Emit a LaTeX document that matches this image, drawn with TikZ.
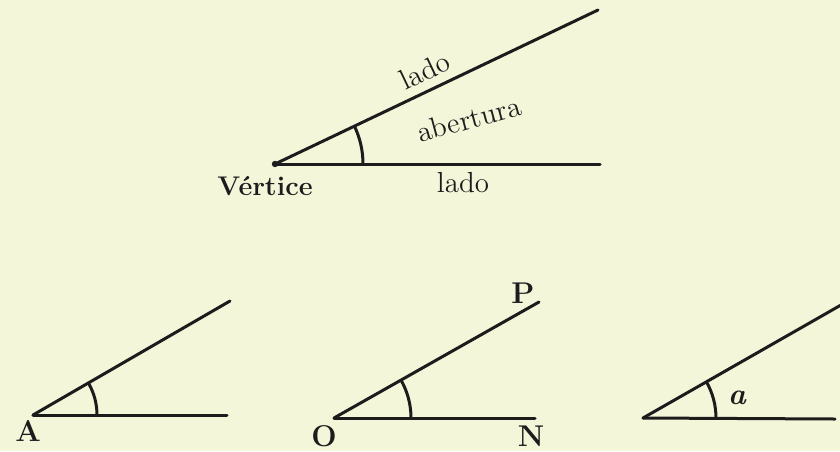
\documentclass[tikz,border=0pt]{standalone}
\usepackage{fontspec}
\usepackage{xcolor}
\definecolor{paperCream}{HTML}{F4F6DA}
\definecolor{inkBlack}{HTML}{1C1C1C}
\usepackage{tikz}
\usetikzlibrary{positioning,calc}

\begin{document}
\begin{tikzpicture}[
  x=0.5pt, y=-0.5pt,
  font=\fontsize{14.5}{17}\selectfont\addfontfeature{FakeBold=0.6},
  ray/.style={draw=inkBlack,line width=1.5pt,line cap=round},
  opening/.style={draw=inkBlack,line width=1.5pt},
  lbl/.style={text=inkBlack,inner sep=1pt},
  tag/.style={text=inkBlack,inner sep=1pt,font=\fontsize{15}{17}\selectfont\bfseries}
]
% paper
\fill[paperCream] (0,0) rectangle (840,451);
\useasboundingbox (0,0) rectangle (840,451);

% main angle
\coordinate (vtx)  at (275,164);
\coordinate (vtxB) at (600,164);
\coordinate (vtxU) at (598,10);
\draw[ray] (vtx) -- (vtxB);
\draw[ray] (vtx) -- node[lbl,sloped,above=3pt,pos=0.49] (ladoUp) {lado} (vtxU);
\draw[opening] ($(vtx)+(88,0)$) arc[start angle=0,end angle=-25.5,radius=88];
\fill[inkBlack] (vtx) circle[radius=3.2];
\node[lbl,rotate=15] (abert) at (469,119) {abertura};
\node[tag,font=\fontsize{13.5}{16}\selectfont\bfseries] (vert) at (265,186) {Vértice};
\node[lbl] (ladoDn) at (463,183) {lado};

% angle A
\coordinate (vA)  at (33,415);
\coordinate (vAB) at (227,415);
\coordinate (vAU) at (230,301);
\draw[ray] (vA) -- (vAB);
\draw[ray] (vA) -- (vAU);
\draw[opening] ($(vA)+(64,0)$) arc[start angle=0,end angle=-30.1,radius=64];
\node[tag] (labA) at (28,431) {A};

% angle PON
\coordinate (vO)  at (334,418);
\coordinate (vON) at (535,418);
\coordinate (vOP) at (539,302);
\draw[ray] (vO) -- (vON);
\draw[ray] (vO) -- (vOP);
\draw[opening] ($(vO)+(77,0)$) arc[start angle=0,end angle=-29.5,radius=77];
\node[tag] (labO) at (324,436) {O};
\node[tag] (labN) at (531,436) {N};
\node[tag] (labP) at (523,293) {P};

% angle a
\coordinate (vR)  at (643,418);
\coordinate (vRB) at (835,419);
\coordinate (vRU) at (841,305);
\draw[ray] (vR) -- (vRB);
\draw[ray] (vR) -- (vRU);
\draw[opening] ($(vR)+(73,0)$) arc[start angle=0,end angle=-29.7,radius=73];
\node[lbl,font=\fontsize{15}{17}\selectfont\bfseries\itshape] (laba) at (737,398) {a};
\end{tikzpicture}
\end{document}
